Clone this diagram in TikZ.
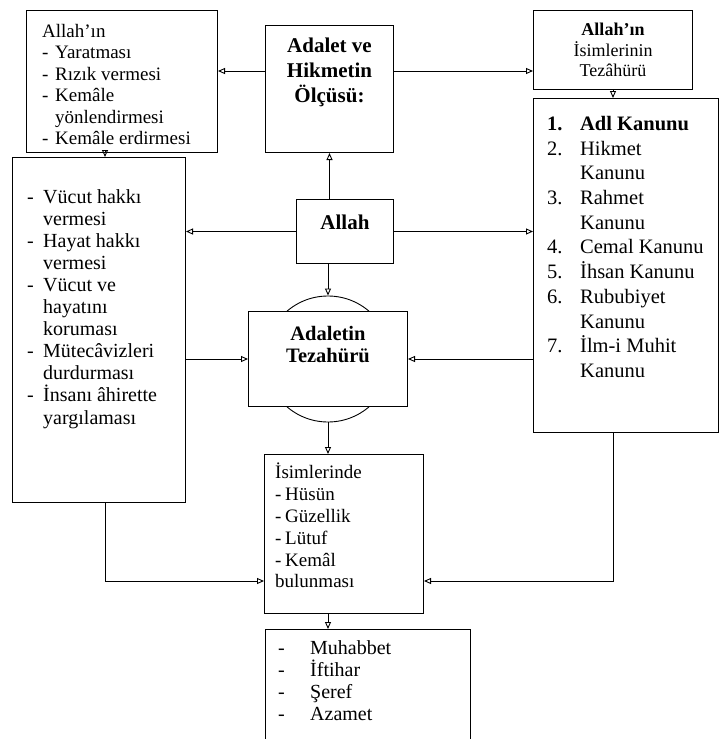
\documentclass[tikz,border=0pt]{standalone}
\usepackage{fontspec}
\setmainfont{Liberation Serif}
\usepackage{tikz}
\usetikzlibrary{positioning,arrows.meta}
\tikzset{kutu/.style={draw,line width=1pt,anchor=north west,inner sep=0pt},
         yazi/.style={inner sep=0pt,align=left,anchor=north west},
         ok/.style={-{Triangle[open,length=7pt,width=6pt]},line width=0.9pt}}
\newcommand{\tire}[1][13pt]{\makebox[#1][l]{-}}
\newcommand{\sira}[1]{\makebox[33pt][l]{#1}}

\begin{document}
\begin{tikzpicture}[x=1pt,y=-1pt] % 像素坐标, y 向下
    \useasboundingbox (0,0) rectangle (720,739);
    \coordinate (ust) at (0,71);   % 上面横线
    \coordinate (alt) at (0,581);  % 下面横线
    \coordinate (solhat) at (105,0);
    % 框
    \node[kutu,minimum width=191pt,minimum height=142pt] (A) at (26,10) {};
    \node[kutu,minimum width=128pt,minimum height=127pt] (B) at (265,25) {};
    \node[kutu,minimum width=159pt,minimum height=79pt] (C) at (533,10) {};
    \node[kutu,minimum width=185pt,minimum height=334pt] (D) at (533,98) {};
    \node[kutu,minimum width=173pt,minimum height=345pt] (E) at (12,157) {};
    \node[kutu,minimum width=97pt,minimum height=64pt] (Allah) at (296,199) {};
    \node[draw,circle,line width=0.9pt,minimum size=126pt,inner sep=0pt] (daire) at (328,359) {};
    \node[kutu,fill=white,minimum width=159pt,minimum height=95pt] (G) at (248,311) {};
    \node[kutu,minimum width=159pt,minimum height=159pt] (F) at (264,454) {};
    \node[kutu,minimum width=205pt,minimum height=140pt] (H) at (265,629) {};
    % 文字
    \node[yazi,font=\fontsize{19}{21.5}\selectfont] (A-yazi) at ([shift={(16,14)}]A.north west)
        {Allah’ın\\ \tire Yaratması\\ \tire Rızık vermesi\\ \tire Kemâle\\ \hspace*{13pt}yönlendirmesi\\ \tire Kemâle erdirmesi};
    \node[yazi,anchor=north,align=center,font=\bfseries\fontsize{21}{25}\selectfont] (B-yazi)
        at ([shift={(0,13)}]B.north) {Adalet ve\\ Hikmetin\\ Ölçüsü:};
    \node[yazi,anchor=north,align=center,font=\fontsize{18}{20.5}\selectfont] (C-yazi)
        at ([shift={(0,13)}]C.north) {\textbf{Allah’ın}\\ İsimlerinin\\ Tezâhürü};
    \node[yazi,font=\fontsize{20.5}{24.7}\selectfont] (D-yazi) at ([shift={(14,18)}]D.north west)
        {\textbf{\sira{1.}Adl Kanunu}\\ \sira{2.}Hikmet\\ \hspace*{33pt}Kanunu\\
         \sira{3.}Rahmet\\ \hspace*{33pt}Kanunu\\ \sira{4.}Cemal Kanunu\\
         \sira{5.}İhsan Kanunu\\ \sira{6.}Rububiyet\\ \hspace*{33pt}Kanunu\\
         \sira{7.}İlm-i Muhit\\ \hspace*{33pt}Kanunu};
    \node[yazi,font=\fontsize{20}{22.1}\selectfont] (E-yazi) at ([shift={(15,32)}]E.north west)
        {\tire[16pt]Vücut hakkı\\ \hspace*{16pt}vermesi\\ \tire[16pt]Hayat hakkı\\ \hspace*{16pt}vermesi\\
         \tire[16pt]Vücut ve\\ \hspace*{16pt}hayatını\\ \hspace*{16pt}koruması\\
         \tire[16pt]Mütecâvizleri\\ \hspace*{16pt}durdurması\\ \tire[16pt]İnsanı âhirette\\ \hspace*{16pt}yargılaması};
    \node[anchor=base,inner sep=0pt,font=\bfseries\fontsize{21}{25}\selectfont] (Allah-yazi)
        at ([shift={(0,30)}]Allah.north) {Allah};
    \node[yazi,anchor=north,align=center,font=\bfseries\fontsize{20.5}{22}\selectfont] (G-yazi)
        at ([shift={(0,15)}]G.north) {Adaletin\\ Tezahürü};
    \node[yazi,font=\fontsize{19}{21.8}\selectfont] (F-yazi) at ([shift={(11,9)}]F.north west)
        {İsimlerinde\\ \tire[10pt]Hüsün\\ \tire[10pt]Güzellik\\ \tire[10pt]Lütuf\\ \tire[10pt]Kemâl\\ bulunması};
    \node[yazi,font=\fontsize{20}{22.3}\selectfont] (H-yazi) at ([shift={(13,11)}]H.north west)
        {\tire[32pt]Muhabbet\\ \tire[32pt]İftihar\\ \tire[32pt]Şeref\\ \tire[32pt]Azamet};
    % 箭头
    \draw[ok] (B.west |- ust) -- (A.east |- ust);
    \draw[ok] (B.east |- ust) -- (C.west |- ust);
    \draw[ok] (A.south -| solhat) -- (E.north -| solhat);
    \draw[ok] (C.south) -- (D.north -| C.south);
    \draw[ok] (B.south |- Allah.north) -- (B.south);
    \draw[ok] (Allah.west) -- (E.east |- Allah.west);
    \draw[ok] (Allah.east) -- (D.west |- Allah.east);
    \draw[ok] (daire.north |- Allah.south) -- (daire.north);
    \draw[ok] (E.east |- G.west) -- (G.west);
    \draw[ok] (D.west |- G.east) -- (G.east);
    \draw[ok] (daire.south) -- (F.north -| daire.south);
    \draw[ok] (E.south -| solhat) |- (F.west |- alt);
    \draw[ok] (D.south -| C.south) |- (F.east |- alt);
    \draw[ok] (F.south -| daire.south) -- (H.north -| daire.south);
\end{tikzpicture}
\end{document}
